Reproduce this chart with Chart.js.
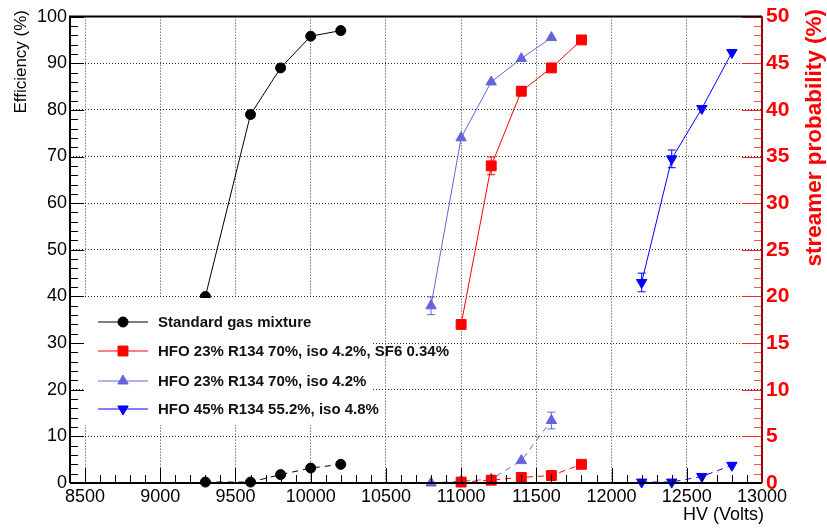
<!DOCTYPE html>
<html>
<head>
<meta charset="utf-8">
<script src="https://cdn.jsdelivr.net/npm/chart.js@4/dist/chart.umd.min.js"></script>
<style>
  body { margin: 0; background: #fff; }
  #wrap { width: 827px; height: 529px; }
</style>
</head>
<body>
<div id="wrap"><canvas id="effChart"></canvas></div>
<script>
// HV points (Volts)
const hvStd = [9300, 9600, 9800, 10000, 10200];
const hvSF6 = [11000, 11200, 11400, 11600, 11800];
const hvHFO23 = [10800, 11000, 11200, 11400, 11600];
const hvHFO45 = [12200, 12400, 12600, 12800];

// efficiency (%), left axis
const effStd = [40, 79, 89, 95.8, 97];
const effSF6 = [34, 68, 84, 89, 95];
const effHFO23 = [38, 74, 86, 91, 95.5];
const effHFO45 = [43, 69.5, 80.3, 92.3];

// streamer probability (%), right axis
const strStd = [0.1, 0.1, 0.9, 1.6, 2.0];
const strSF6 = [0.1, 0.3, 0.6, 0.8, 2.0];
const strHFO23 = [0, 0.2, 0.4, 2.4, 6.7];
const strHFO45 = [0.1, 0.1, 0.7, 1.9];

// error bars (only where visible)
const errSF6 = [0, 1.9, 0, 0, 0];
const errHFO23 = [1.9, 0, 0, 0, 0];
const errHFO45 = [2, 1.9, 0, 0];
const errStrHFO23 = [0, 0, 0, 0, 0.9];

const seriesNames = [
  "Standard gas mixture",
  "HFO 23% R134 70%, iso 4.2%, SF6 0.34%",
  "HFO 23% R134 70%, iso 4.2%",
  "HFO 45% R134 55.2%, iso 4.8%"
];
const xTicks = [8500, 9000, 9500, 10000, 10500, 11000, 11500, 12000, 12500, 13000];

const FONT = "'Liberation Sans', Arial, Helvetica, sans-serif";
const LAV = "#6464dc";

function pts(xs, ys) {
  return xs.map((x, i) => ({ x: x, y: ys[i] }));
}

function series(xs, ys, color, style, radius, axis, dashed, errs, rot) {
  return {
    data: pts(xs, ys),
    yAxisID: axis,
    borderColor: color,
    backgroundColor: color,
    borderWidth: 1,
    borderDash: dashed ? [6, 5] : [],
    pointStyle: style,
    pointRadius: radius,
    pointRotation: rot || 0,
    pointBorderWidth: 1,
    showLine: true,
    clip: false,
    errors: errs || null
  };
}

const datasets = [
  series(hvStd, effStd, "#000", "circle", 5, "y", false),
  series(hvSF6, effSF6, "#ff0000", "rect", 7, "y", false, errSF6),
  series(hvHFO23, effHFO23, LAV, "triangle", 6, "y", false, errHFO23),
  series(hvHFO45, effHFO45, "#0000ff", "triangle", 6, "y", false, errHFO45, 180),
  series(hvStd, strStd, "#000", "circle", 5, "y2", true),
  series(hvSF6, strSF6, "#ff0000", "rect", 7, "y2", true),
  series(hvHFO23, strHFO23, LAV, "triangle", 6, "y2", true, errStrHFO23),
  series(hvHFO45, strHFO45, "#0000ff", "triangle", 6, "y2", true, null, 180)
];

function tickMarks(ctx, scale, from, to, step, len, horizontal, edge, dir, color) {
  ctx.strokeStyle = color;
  ctx.lineWidth = 1;
  ctx.beginPath();
  for (let v = from; v <= to + 1e-6; v += step) {
    const p = Math.round(scale.getPixelForValue(v)) + 0.5;
    if (horizontal) { ctx.moveTo(p, edge); ctx.lineTo(p, edge + dir * len); }
    else { ctx.moveTo(edge, p); ctx.lineTo(edge + dir * len, p); }
  }
  ctx.stroke();
}

const frame = {
  id: "frame",
  afterDatasetsDraw(chart) {
    const { ctx, chartArea: a, scales } = chart;
    ctx.save();

    // error bars
    chart.data.datasets.forEach((ds, i) => {
      if (!ds.errors) return;
      const meta = chart.getDatasetMeta(i);
      const sc = scales[ds.yAxisID];
      ds.errors.forEach((e, j) => {
        if (!e) return;
        const px = meta.data[j].x;
        const v = ds.data[j].y;
        const y1 = sc.getPixelForValue(v + e), y0 = sc.getPixelForValue(v - e);
        ctx.strokeStyle = ds.borderColor;
        ctx.lineWidth = 1;
        ctx.beginPath();
        ctx.moveTo(px, y1); ctx.lineTo(px, y0);
        ctx.moveTo(px - 4, y1); ctx.lineTo(px + 4, y1);
        ctx.moveTo(px - 4, y0); ctx.lineTo(px + 4, y0);
        ctx.stroke();
      });
    });

    // legend
    ctx.fillStyle = "#fff";
    ctx.fillRect(85, 298, 288, 127);
    const rows = [322, 351, 381, 409];
    ctx.font = "bold 15px " + FONT;
    ctx.textBaseline = "middle";
    ctx.textAlign = "left";
    seriesNames.forEach((name, i) => {
      const ds = chart.data.datasets[i];
      ctx.strokeStyle = ds.borderColor;
      ctx.lineWidth = 1;
      ctx.setLineDash([]);
      ctx.beginPath();
      ctx.moveTo(98, rows[i]); ctx.lineTo(148, rows[i]);
      ctx.stroke();
      ctx.fillStyle = ds.backgroundColor;
      Chart.helpers.drawPoint(ctx, {
        pointStyle: ds.pointStyle, radius: ds.pointRadius,
        rotation: ds.pointRotation, borderWidth: 1
      }, 123, rows[i]);
      ctx.fillStyle = "#111";
      ctx.fillText(name, 158, rows[i] + 1);
    });

    // inward ticks
    tickMarks(ctx, scales.y, 0, 100, 2, 8, false, a.left, 1, "#000");
    tickMarks(ctx, scales.y, 0, 100, 10, 14, false, a.left, 1, "#000");
    tickMarks(ctx, scales.x, 8400, 13000, 100, 8, true, a.bottom, -1, "#000");
    tickMarks(ctx, scales.x, 8500, 13000, 500, 15, true, a.bottom, -1, "#000");
    tickMarks(ctx, scales.y2, 0, 50, 1, 8, false, a.right, -1, "#ff5050");
    tickMarks(ctx, scales.y2, 0, 50, 5, 20, false, a.right, -1, "#ff2020");

    // frame lines
    ctx.lineWidth = 2;
    ctx.strokeStyle = "#000";
    ctx.beginPath();
    ctx.moveTo(a.left, a.bottom); ctx.lineTo(a.left, a.top);
    ctx.lineTo(a.right, a.top);
    ctx.moveTo(a.left, a.bottom); ctx.lineTo(a.right, a.bottom);
    ctx.stroke();
    ctx.strokeStyle = "#a00000";
    ctx.beginPath();
    ctx.moveTo(a.right, a.top); ctx.lineTo(a.right, a.bottom);
    ctx.stroke();

    // axis titles
    ctx.fillStyle = "#000";
    ctx.font = "17px " + FONT;
    ctx.textAlign = "right";
    ctx.save();
    ctx.translate(21, 10);
    ctx.rotate(-Math.PI / 2);
    ctx.fillText("Efficiency (%)", 0, 0);
    ctx.restore();

    ctx.font = "18px " + FONT;
    ctx.fillText("HV (Volts)", 764, 515);

    ctx.fillStyle = "#ff0000";
    ctx.font = "bold 22.5px " + FONT;
    ctx.save();
    ctx.translate(815, 9);
    ctx.rotate(-Math.PI / 2);
    ctx.fillText("streamer probability (%)", 0, 0);
    ctx.restore();

    ctx.restore();
  }
};

const gridStyle = { color: "#333", lineWidth: 1, drawTicks: false };

new Chart(document.getElementById("effChart"), {
  type: "scatter",
  data: { datasets: datasets },
  options: {
    responsive: true,
    maintainAspectRatio: false,
    animation: false,
    layout: { padding: { top: 14, left: 0, right: 0, bottom: 0 } },
    plugins: { legend: { display: false }, tooltip: { enabled: false } },
    scales: {
      x: {
        type: "linear",
        min: 8400,
        max: 13000,
        grid: gridStyle,
        border: { display: false, dash: [1, 2] },
        afterBuildTicks: (s) => { s.ticks = xTicks.map(v => ({ value: v })); },
        afterFit: (s) => { s.height = 46; },
        ticks: {
          color: "#000", font: { family: FONT, size: 18 }, padding: 3,
          maxRotation: 0, autoSkip: false, callback: (v) => String(v)
        }
      },
      y: {
        position: "left",
        min: 0,
        max: 100,
        grid: gridStyle,
        border: { display: false, dash: [1, 2] },
        afterFit: (s) => { s.width = 70; },
        ticks: { stepSize: 10, color: "#000", font: { family: FONT, size: 18 }, padding: 3 }
      },
      y2: {
        position: "right",
        min: 0,
        max: 50,
        grid: { display: false, drawTicks: false },
        border: { display: false },
        afterFit: (s) => { s.width = 65; },
        ticks: { stepSize: 5, color: "#ff0000", font: { family: FONT, size: 21, weight: "bold" }, padding: 4 }
      }
    }
  },
  plugins: [frame]
});
</script>
</body>
</html>
